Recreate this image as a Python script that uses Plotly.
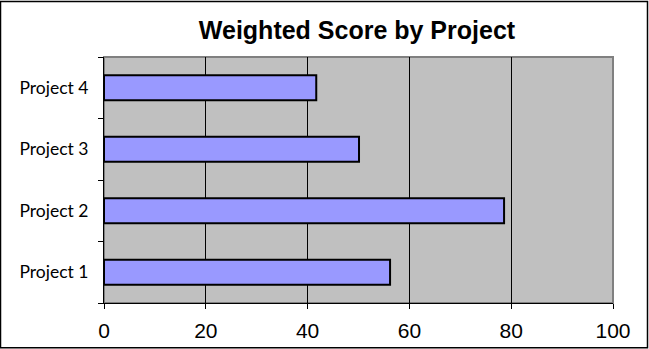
import plotly.graph_objects as go

projects = ["Project 1", "Project 2", "Project 3", "Project 4"]
scores = [56.2, 78.6, 50.1, 41.7]
x_ticks = [0, 20, 40, 60, 80, 100]

W, H = 649, 354
L, R, T, B = 104, 36, 57, 47
pw, ph = W - L - R, H - T - B

fig = go.Figure(go.Bar(
    y=projects, x=scores, orientation="h",
    marker=dict(color="#9999FF", line=dict(color="black", width=2)),
))

fig.update_layout(
    width=W, height=H,
    margin=dict(l=L, r=R, t=T, b=B),
    paper_bgcolor="white", plot_bgcolor="#C0C0C0",
    bargap=0.59, showlegend=False,
    title=dict(text="<b>Weighted Score by Project</b>", x=357 / W, xanchor="center",
               y=1 - 30 / H, yanchor="middle",
               font=dict(family="Liberation Sans, Arial", size=25, color="black")),
    xaxis=dict(range=[0, 100], tickvals=x_ticks, showgrid=True, gridcolor="black", gridwidth=1,
               zeroline=False, showline=True, linecolor="black", linewidth=1,
               ticks="outside", ticklen=5, tickcolor="black", ticklabelstandoff=4,
               tickfont=dict(family="Liberation Sans, Arial", size=21, color="black")),
    yaxis=dict(showgrid=False, zeroline=False, showline=True, linecolor="black", linewidth=1,
               ticks="outside", ticklen=5, tickcolor="black", tickson="boundaries",
               tickfont=dict(family="Lato, Open Sans", size=17.5, color="black"),
               ticklabelstandoff=11),
    shapes=[
        dict(type="rect", xref="paper", yref="paper", x0=0, x1=1, y0=0, y1=1,
             line=dict(color="#808080", width=2), layer="below"),
        dict(type="rect", xref="paper", yref="paper",
             x0=(0.5 - L) / pw, x1=(W - 1.5 - L) / pw,
             y0=-(H - 1.5 - (H - B)) / ph, y1=((H - B) - 0.5) / ph,
             line=dict(color="black", width=1.5), layer="above"),
    ],
)

fig.write_html("out.html")
